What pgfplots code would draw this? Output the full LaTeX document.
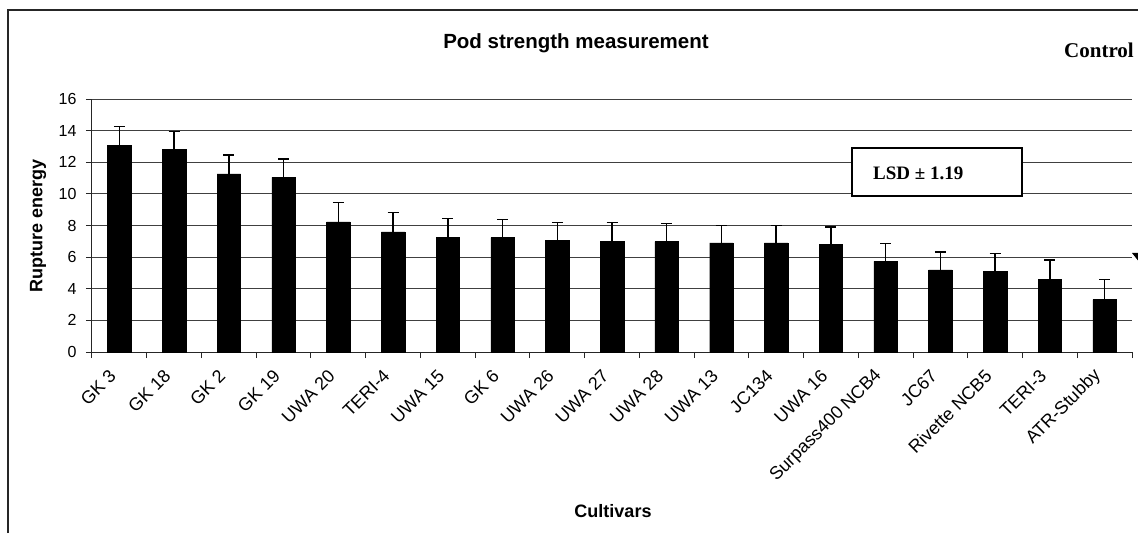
\documentclass[border=0pt]{standalone}
\usepackage{pgfplots}
\pgfplotsset{compat=1.18}
\usepackage{pgfplotstable}
\usepackage{fontspec}
\setmainfont{Liberation Sans}
\newfontfamily\tnr{Liberation Serif}

\pgfplotstableread{
x y e
0.5 13.09 1.17
1.5 12.82 1.12
2.5 11.27 1.20
3.5 11.05 1.14
4.5 8.23 1.22
5.5 7.59 1.23
6.5 7.23 1.22
7.5 7.23 1.14
8.5 7.06 1.14
9.5 6.98 1.22
10.5 6.98 1.16
11.5 6.90 1.10
12.5 6.90 1.10
13.5 6.79 1.12
14.5 5.73 1.14
15.5 5.19 1.14
16.5 5.10 1.14
17.5 4.58 1.24
18.5 3.31 1.27
}\datatable

\begin{document}
\begin{tikzpicture}
\begin{axis}[
  width=1040pt, height=253pt, scale only axis,
  xmin=0, xmax=19, ymin=0, ymax=16,
  axis x line*=bottom, axis y line*=left,
  axis line style={black!85, line width=1pt},
  ytick={0,2,...,16},
  xtick={0,1,...,19},
  xticklabels={},
  extra x ticks={0.38,1.38,2.38,3.38,4.38,5.38,6.38,7.38,8.38,9.38,10.38,11.38,12.38,13.38,14.38,15.38,16.38,17.38,18.38},
  extra x tick labels={GK 3,GK 18,GK 2,GK 19,UWA 20,TERI-4,UWA 15,GK 6,UWA 26,UWA 27,UWA 28,UWA 13,JC134,UWA 16,Surpass400 NCB4,JC67,Rivette NCB5,TERI-3,ATR-Stubby},
  extra x tick style={major tick length=0pt, grid=none,
     xticklabel style={rotate=45, anchor=east, inner sep=0pt, font=\fontsize{18}{21}\selectfont}},
  xticklabel shift=21pt,
  yticklabel shift=6pt,
  tick align=outside,
  major tick length=6pt,
  tick style={black!85, line width=1pt},
  ymajorgrids, xmajorgrids=false,
  grid style={black!75, line width=1pt},
  yticklabel style={font=\fontsize{16}{19}\selectfont},
  /pgf/number format/assume math mode=true,
  ybar, bar width=23.5pt,
]
\addplot[fill=black, draw=black,
  error bars/.cd, y dir=plus, y explicit,
  error mark=|,
  error bar style={line width=1.5pt, black},
  error mark options={line width=1.5pt, mark size=5.5pt, black}]
  table[x=x, y=y, y error=e] {\datatable};
\coordinate (AO) at (rel axis cs:0,0);
\end{axis}
\begin{scope}[shift={(AO)}, xshift=-92pt, yshift=-181pt, x=1pt, y=1pt]
% frame
\draw[black!85, line width=1.5pt] (8,0) -- (8,523) -- (1138,523);
% texts
\node[anchor=base, font=\bfseries\fontsize{20.5}{24}\selectfont] at (576,484) {Pod strength measurement};
\node[anchor=base west, inner sep=0pt, font=\tnr\bfseries\fontsize{21}{24}\selectfont] at (1064,475) {Control};
\node[rotate=90, font=\bfseries\fontsize{18}{21}\selectfont] at (38,307) {Rupture energy};
\node[anchor=base, font=\bfseries\fontsize{18}{21}\selectfont] at (613,16) {Cultivars};
% LSD box
\draw[black, line width=1.5pt, fill=white] (852,385) rectangle (1022,337);
\node[anchor=base west, inner sep=0pt, font=\tnr\bfseries\fontsize{19}{22}\selectfont] at (873,353) {LSD ± 1.19};
% partial marker at right edge
\fill[black, overlay] (1132,280) -- (1148,280) -- (1140,270) -- cycle;
\pgfresetboundingbox
\useasboundingbox (0,0) rectangle (1138,533);
\end{scope}
\end{tikzpicture}
\end{document}
